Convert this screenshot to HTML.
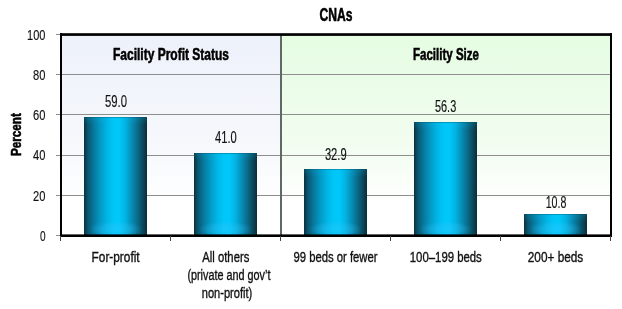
<!DOCTYPE html>
<html><head><meta charset="utf-8">
<style>
html,body{margin:0;padding:0;background:#fff;width:622px;height:309px;overflow:hidden}
svg{display:block;will-change:transform}
text{font-family:"Liberation Sans",sans-serif;fill:#111;stroke:#111;stroke-width:0.35px}
.v text{stroke-width:0.15px}
.b{font-weight:bold;fill:#000;stroke:#000;stroke-width:0.55px}
</style></head><body>
<svg width="622" height="309" viewBox="0 0 622 309">
<defs>
<linearGradient id="gl" x1="0" y1="0" x2="0" y2="1">
<stop offset="0" stop-color="#edf1fa"/>
<stop offset="0.55" stop-color="#f6f8fc"/>
<stop offset="0.85" stop-color="#ffffff"/>
<stop offset="1" stop-color="#ffffff"/>
</linearGradient>
<linearGradient id="gr" x1="0" y1="0" x2="0" y2="1">
<stop offset="0" stop-color="#e5fce2"/>
<stop offset="0.55" stop-color="#f2fdf0"/>
<stop offset="0.85" stop-color="#ffffff"/>
<stop offset="1" stop-color="#ffffff"/>
</linearGradient>
<linearGradient id="bar" x1="0" y1="0" x2="1" y2="0">
<stop offset="0" stop-color="#0c2f3c"/>
<stop offset="0.06" stop-color="#0a5670"/>
<stop offset="0.16" stop-color="#077aa0"/>
<stop offset="0.27" stop-color="#039cc8"/>
<stop offset="0.37" stop-color="#00b6e6"/>
<stop offset="0.47" stop-color="#00c6f8"/>
<stop offset="0.56" stop-color="#00c8fa"/>
<stop offset="0.66" stop-color="#02b2e2"/>
<stop offset="0.76" stop-color="#078cb4"/>
<stop offset="0.86" stop-color="#0a6684"/>
<stop offset="0.95" stop-color="#0b4252"/>
<stop offset="1" stop-color="#0c2c38"/>
</linearGradient>
<linearGradient id="bot" x1="0" y1="0" x2="0" y2="1">
<stop offset="0" stop-color="#28b4e6" stop-opacity="0"/>
<stop offset="0.6" stop-color="#28b4e6" stop-opacity="0.35"/>
<stop offset="0.85" stop-color="#28b4e6" stop-opacity="0.25"/>
<stop offset="1" stop-color="#0a3040" stop-opacity="0.6"/>
</linearGradient>
<linearGradient id="top" x1="0" y1="0" x2="0" y2="1">
<stop offset="0" stop-color="#062430" stop-opacity="0.7"/>
<stop offset="0.15" stop-color="#00c0f0" stop-opacity="0.15"/>
<stop offset="1" stop-color="#00c0f0" stop-opacity="0"/>
</linearGradient>
<radialGradient id="glow" cx="0.5" cy="0.5" r="0.5">
<stop offset="0" stop-color="#2ac8ff" stop-opacity="0.5"/>
<stop offset="0.6" stop-color="#2ac0f5" stop-opacity="0.3"/>
<stop offset="1" stop-color="#2ab8f0" stop-opacity="0"/>
</radialGradient>
<clipPath id="cb1"><rect x="84" y="117" width="63" height="118"/></clipPath>
<clipPath id="cb2"><rect x="194" y="153" width="63" height="82"/></clipPath>
<clipPath id="cb3"><rect x="304" y="169" width="63" height="66"/></clipPath>
<clipPath id="cb4"><rect x="414" y="122" width="63" height="113"/></clipPath>
<clipPath id="cb5"><rect x="524" y="214" width="63" height="21"/></clipPath>
</defs>
<rect x="0" y="0" width="622" height="309" fill="#fff"/>
<!-- panels -->
<rect x="61" y="34" width="220" height="201" fill="url(#gl)"/>
<rect x="281" y="34" width="330" height="201" fill="url(#gr)"/>
<!-- gridlines -->
<g stroke="#8e8e8e" stroke-width="1">
<line x1="56" y1="74.5" x2="611" y2="74.5"/>
<line x1="56" y1="114.5" x2="611" y2="114.5"/>
<line x1="56" y1="155.5" x2="611" y2="155.5"/>
<line x1="56" y1="195.5" x2="611" y2="195.5"/>
<line x1="56" y1="34.5" x2="61" y2="34.5"/>
<line x1="56" y1="235.5" x2="61" y2="235.5"/>
</g>
<!-- divider -->
<rect x="280" y="34" width="2" height="201" fill="#606a65"/>
<!-- bars -->
<rect x="84" y="117" width="63" height="118" fill="url(#bar)"/>
<rect x="194" y="153" width="63" height="82" fill="url(#bar)"/>
<rect x="304" y="169" width="63" height="66" fill="url(#bar)"/>
<rect x="414" y="122" width="63" height="113" fill="url(#bar)"/>
<rect x="524" y="214" width="63" height="21" fill="url(#bar)"/>
<rect x="84" y="117" width="63" height="8" fill="url(#top)"/>
<rect x="194" y="153" width="63" height="8" fill="url(#top)"/>
<rect x="304" y="169" width="63" height="8" fill="url(#top)"/>
<rect x="414" y="122" width="63" height="8" fill="url(#top)"/>
<rect x="524" y="214" width="63" height="8" fill="url(#top)"/>
<ellipse cx="115.5" cy="229" rx="27" ry="8" fill="url(#glow)" clip-path="url(#cb1)"/>
<ellipse cx="225.5" cy="229" rx="27" ry="8" fill="url(#glow)" clip-path="url(#cb2)"/>
<ellipse cx="335.5" cy="229" rx="27" ry="8" fill="url(#glow)" clip-path="url(#cb3)"/>
<ellipse cx="445.5" cy="229" rx="27" ry="8" fill="url(#glow)" clip-path="url(#cb4)"/>
<ellipse cx="555.5" cy="229" rx="27" ry="8" fill="url(#glow)" clip-path="url(#cb5)"/>
<!-- frame -->
<g fill="#000">
<rect x="60" y="33.2" width="552" height="2.7"/>
<rect x="60" y="234.4" width="552" height="2.6"/>
<rect x="60" y="33" width="2" height="204"/>
<rect x="610" y="33" width="2" height="204"/>
</g>
<g stroke="#444" stroke-width="1">
<line x1="60.5" y1="236" x2="60.5" y2="241"/>
<line x1="170.5" y1="236" x2="170.5" y2="241"/>
<line x1="280.5" y1="236" x2="280.5" y2="241"/>
<line x1="390.5" y1="236" x2="390.5" y2="241"/>
<line x1="500.5" y1="236" x2="500.5" y2="241"/>
<line x1="610.5" y1="236" x2="610.5" y2="241"/>
</g>
<!-- texts -->
<text class="b" x="336" y="21" font-size="18" text-anchor="middle" textLength="33" lengthAdjust="spacingAndGlyphs">CNAs</text>
<text class="b" x="171" y="59.5" font-size="16.5" text-anchor="middle" textLength="116" lengthAdjust="spacingAndGlyphs">Facility Profit Status</text>
<text class="b" x="446" y="59.5" font-size="16.5" text-anchor="middle" textLength="66" lengthAdjust="spacingAndGlyphs">Facility Size</text>
<g class="v" font-size="15.5" text-anchor="end">
<text x="45.5" y="40" textLength="18.4" lengthAdjust="spacingAndGlyphs">100</text>
<text x="45.5" y="80.1" textLength="12.4" lengthAdjust="spacingAndGlyphs">80</text>
<text x="45.5" y="120.2" textLength="12.4" lengthAdjust="spacingAndGlyphs">60</text>
<text x="45.5" y="160.2" textLength="12.4" lengthAdjust="spacingAndGlyphs">40</text>
<text x="45.5" y="200.6" textLength="12.4" lengthAdjust="spacingAndGlyphs">20</text>
<text x="45.5" y="241.1" textLength="5.6" lengthAdjust="spacingAndGlyphs">0</text>
</g>
<text class="b" transform="translate(20.6,134.6) rotate(-90)" font-size="14.8" text-anchor="middle" textLength="43" lengthAdjust="spacingAndGlyphs">Percent</text>
<g class="v" font-size="16" text-anchor="middle">
<text x="116" y="106.9" textLength="22" lengthAdjust="spacingAndGlyphs">59.0</text>
<text x="225.85" y="143" textLength="21.7" lengthAdjust="spacingAndGlyphs">41.0</text>
<text x="335.75" y="159.7" textLength="21.7" lengthAdjust="spacingAndGlyphs">32.9</text>
<text x="445.6" y="112.4" textLength="21.2" lengthAdjust="spacingAndGlyphs">56.3</text>
<text x="556.05" y="207.7" textLength="20.7" lengthAdjust="spacingAndGlyphs">10.8</text>
</g>
<g font-size="14" text-anchor="middle">
<text x="115.6" y="262" textLength="48" lengthAdjust="spacingAndGlyphs">For-profit</text>
<text x="225.8" y="262" textLength="47" lengthAdjust="spacingAndGlyphs">All others</text>
<text x="228.9" y="280" textLength="83" lengthAdjust="spacingAndGlyphs">(private and gov’t</text>
<text x="227" y="298.2" textLength="50.5" lengthAdjust="spacingAndGlyphs">non-profit)</text>
<text x="335.5" y="262" textLength="84" lengthAdjust="spacingAndGlyphs">99 beds or fewer</text>
<text x="445.8" y="262" textLength="72" lengthAdjust="spacingAndGlyphs">100–199 beds</text>
<text x="555.5" y="262" textLength="55.5" lengthAdjust="spacingAndGlyphs">200+ beds</text>
</g>
</svg>
</body></html>
